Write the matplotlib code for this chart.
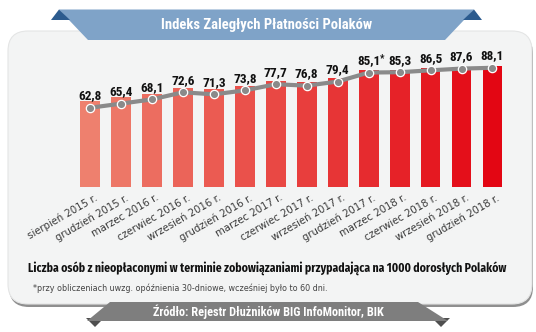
import matplotlib
matplotlib.use("Agg")
import matplotlib.pyplot as plt
import numpy as np
from matplotlib.patches import Polygon, FancyBboxPatch
from matplotlib.colors import LinearSegmentedColormap
from matplotlib.transforms import ScaledTranslation

# dane: indeks zaległych płatności (osoby na 1000 dorosłych)
okresy = ["sierpień 2015 r.", "grudzień 2015 r.", "marzec 2016 r.", "czerwiec 2016 r.",
          "wrzesień 2016 r.", "grudzień 2016 r.", "marzec 2017 r.", "czerwiec 2017 r.",
          "wrzesień 2017 r.", "grudzień 2017 r.", "marzec 2018 r.", "czerwiec 2018 r.",
          "wrzesień 2018 r.", "grudzień 2018 r."]
wartosci = [62.8, 65.4, 68.1, 72.6, 71.3, 73.8, 77.7, 76.8, 79.4, 85.1, 85.3, 86.5, 87.6, 88.1]
gwiazdka = [False] * 9 + [True] + [False] * 4

W, H = 536, 332
fig = plt.figure(figsize=(W / 100, H / 100), dpi=100)
fig.patch.set_facecolor("white")

# tło w pikselach (0,0 = lewy górny róg)
bg = fig.add_axes([0, 0, 1, 1], zorder=-1)
bg.set_xlim(0, W)
bg.set_ylim(H, 0)
bg.axis("off")

# panel z cieniem
bg.add_patch(FancyBboxPatch((9, 34), 524, 273, boxstyle="round,pad=0,rounding_size=20",
                            fc="#8f8f8f", ec="none"))
bg.add_patch(FancyBboxPatch((8, 31), 524, 273, boxstyle="round,pad=0,rounding_size=20",
                            fc="#f3f4f4", ec="#e4e5e5", lw=0.8))

# wstęga tytułu
bg.add_patch(Polygon([(59, 9.5), (474, 9.5), (445, 40), (88, 40)], closed=True,
                     fc="#7fa3c8", ec="none"))
bg.add_patch(Polygon([(51, 20), (59, 9.5), (70, 20)], closed=True, fc="#2c5b8e", ec="none"))
bg.add_patch(Polygon([(463, 20), (474, 9.5), (482, 20)], closed=True, fc="#2c5b8e", ec="none"))
bg.text(267, 25, "Indeks Zaległych Płatności Polaków", color="white", ha="center", va="center",
        fontsize=10.5, fontweight="bold", family=["Roboto Condensed", "DejaVu Sans"])

# wstęga źródła
bg.add_patch(Polygon([(86, 318), (104, 318), (95, 327)], closed=True, fc="#4f4f4f", ec="none"))
bg.add_patch(Polygon([(432, 318), (450, 318), (441, 327)], closed=True, fc="#4f4f4f", ec="none"))
bg.add_patch(Polygon([(110, 302), (418, 302), (448, 321), (87, 321)], closed=True,
                     fc="#7e7e7e", ec="none"))
bg.text(268, 312, "Źródło: Rejestr Dłużników BIG InfoMonitor, BIK", color="white",
        ha="center", va="center", fontsize=8.8, fontweight="bold",
        family=["Roboto Condensed", "DejaVu Sans"])

# podpisy pod wykresem
bg.text(267.5, 268, "Liczba osób z nieopłaconymi w terminie zobowiązaniami przypadająca na 1000 dorosłych Polaków",
        ha="center", va="center", fontsize=8.4, fontweight="bold", color="#111111",
        family=["Fira Sans Condensed", "DejaVu Sans"])
bg.text(33, 288, "*przy obliczeniach uwzg. opóźnienia 30-dniowe, wcześniej było to 60 dni.",
        ha="left", va="center", fontsize=5.8, color="#444444", family="DejaVu Sans")

# słupki
x = np.arange(len(wartosci))
x0, krok = 90.0, 30.96
left_px = x0 - krok
ax = fig.add_axes([left_px / W, 145 / H, 15 * krok / W, 130 / H])
ax.patch.set_alpha(0)
cmap = LinearSegmentedColormap.from_list("czerwien", ["#ee806e", "#e30613"])
kolory = [cmap(i / (len(x) - 1)) for i in x]
ax.bar(x, wartosci, width=0.64, color=kolory)
ax.set_xlim(-1, 14)
ax.set_ylim(0, 130 / 1.37)
for s in ax.spines.values():
    s.set_visible(False)
ax.set_yticks([])
ax.set_xticks(x)
ax.set_xticklabels(okresy, rotation=30, ha="right", rotation_mode="anchor",
                   fontsize=7.3, color="#3a3a3a", family="DejaVu Sans")
ax.tick_params(axis="x", length=0, pad=4)
przesun = ScaledTranslation(4 / 100, 0, fig.dpi_scale_trans)
for lab in ax.get_xticklabels():
    lab.set_transform(lab.get_transform() + przesun)

# linia z punktami
ax2 = ax.twinx()
ax2.set_ylim(20 / 1.58, 150 / 1.58)
ax2.axis("off")
ax2.plot(x, wartosci, color="#8a8a8a", lw=3, zorder=3, solid_capstyle="butt")
ax2.plot(x, wartosci, "o", ms=6, mfc="#8a8a8a", mec="white", mew=0.9, zorder=4)
for xi, v, g in zip(x, wartosci, gwiazdka):
    ax2.annotate(f"{v:.1f}".replace(".", ","), (xi, v), xytext=(0, 12), textcoords="offset pixels",
                 ha="center", va="center", fontsize=9.5, fontweight="bold", color="#111111",
                 family=["Roboto Condensed", "DejaVu Sans"], annotation_clip=False)
    if g:
        ax2.annotate("*", (xi, v), xytext=(13, 14), textcoords="offset pixels",
                     ha="center", va="center", fontsize=7, fontweight="bold", color="#111111",
                     family=["Roboto Condensed", "DejaVu Sans"], annotation_clip=False)

fig.savefig("out.png", dpi=100)
